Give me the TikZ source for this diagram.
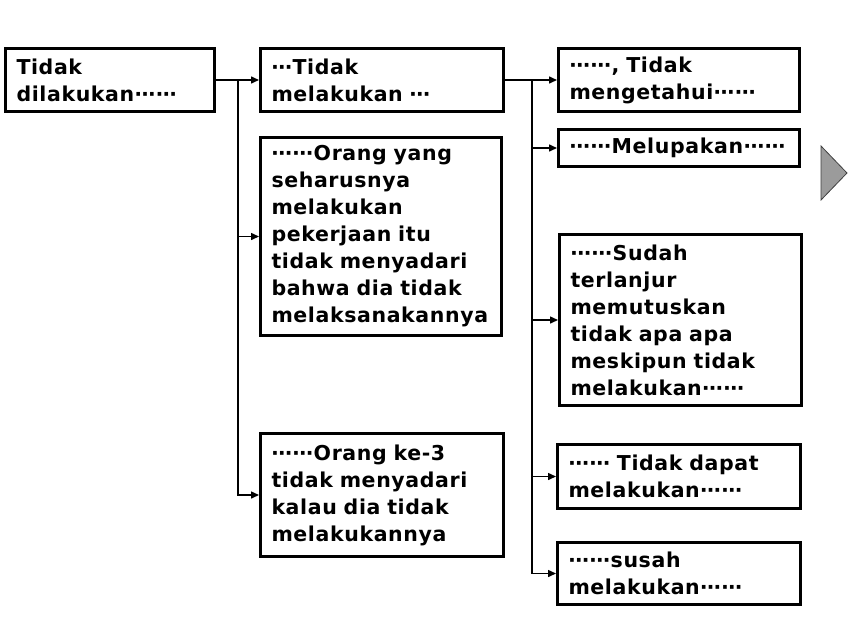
\documentclass[tikz,border=0pt]{standalone}
\usepackage{fontspec}
\setmainfont{DejaVu Sans}[LetterSpace=3]
\usetikzlibrary{arrows.meta}
\newcommand\dd{⋯}
\begin{document}
\begin{tikzpicture}[x=1pt,y=-1pt,
  box/.style={draw, line width=3pt, rectangle, inner xsep=11pt, inner ysep=0pt,
    align=left, font=\fontsize{20.5}{27}\selectfont\bfseries},
  conn/.style={line width=1.5pt, -{Triangle[length=8pt,width=7pt]}},
  trunk/.style={line width=1.5pt}]
\useasboundingbox (0,0) rectangle (857,627);
\node[box, text width=187pt, minimum height=63pt] (A) at (110,80) {Tidak\\dilakukan\dd\dd};
\node[box, text width=221pt, minimum height=63pt] (B) at (382,80) {\dd Tidak\\melakukan \dd};
\node[box, text width=219pt, minimum height=198pt] (C) at (381,236.5) {\dd\dd Orang yang\\seharusnya\\melakukan\\pekerjaan itu\\tidak menyadari\\bahwa dia tidak\\melaksanakannya};
\node[box, text width=221pt, minimum height=123pt] (D) at (382,495) {\dd\dd Orang ke-3\\tidak menyadari\\kalau dia tidak\\melakukannya};
\node[box, text width=219pt, minimum height=63pt] (E) at (679,80) {\dd\dd, Tidak\\mengetahui\dd\dd};
\node[box, text width=219pt, minimum height=37pt] (F) at (679,148) {\dd\dd Melupakan\dd\dd};
\node[box, text width=220pt, minimum height=171pt] (G) at (680.5,320) {\dd\dd Sudah\\terlanjur\\memutuskan\\tidak apa apa\\meskipun tidak\\melakukan\dd\dd};
\node[box, text width=221pt, minimum height=64pt] (H) at (679,476.5) {\dd\dd{} Tidak dapat\\melakukan\dd\dd};
\node[box, text width=221pt, minimum height=62pt] (I) at (679,573.5) {\dd\dd susah\\melakukan\dd\dd};
\coordinate (j1) at (238,80);
\coordinate (j2) at (532,80);
\draw[conn] (A.east) -- (B.west);
\draw[conn] (j1) |- (C.west);
\draw[conn] (j1) |- (D.west);
\draw[conn] (B.east) -- (E.west);
\draw[conn] (j2) |- (F.west);
\draw[conn] (j2) |- (G.west);
\draw[conn] (j2) |- (H.west);
\draw[conn] (j2) |- (I.west);
\draw[fill={rgb,255:red,155;green,155;blue,155}, draw=black!75, line width=0.8pt] (821,146) -- (847,173) -- (821,200) -- cycle;
\end{tikzpicture}
\end{document}
